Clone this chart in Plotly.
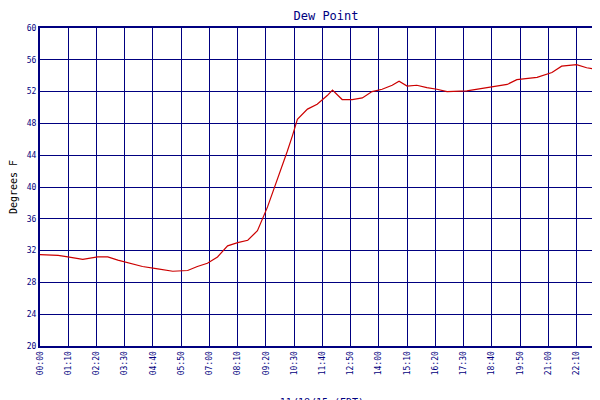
import plotly.graph_objects as go

minutes = [0,45,69,106,143,168,193,217,254,292,329,366,390,415,440,465,490,515,539,564,589,613,626,638,663,687,712,725,749,774,799,823,848,873,890,910,934,959,984,1009,1058,1108,1158,1182,1232,1269,1293,1330,1355,1380,1398]
dew = [31.5,31.4,31.2,30.9,31.2,31.2,30.8,30.5,30.0,29.7,29.4,29.5,30.0,30.4,31.2,32.6,33.0,33.3,34.5,37.5,41.0,44.5,46.5,48.5,49.8,50.4,51.5,52.2,51.0,51.0,51.2,52.0,52.3,52.8,53.3,52.7,52.8,52.5,52.3,52.0,52.1,52.5,52.9,53.5,53.8,54.4,55.2,55.4,55.0,54.8,55.0]
tick_vals = [0,70,140,210,280,350,420,490,560,630,700,770,840,910,980,1050,1120,1190,1260,1330,1395,1398]
tick_text = ["00:00","01:10","02:20","03:30","04:40","05:50","07:00","08:10","09:20","10:30","11:40","12:50","14:00","15:10","16:20","17:30","18:40","19:50","21:00","22:10","23:20","00:00"]
y_ticks = list(range(20, 61, 4))

navy = "#000080"
font = dict(family="DejaVu Sans Mono", size=9, color=navy)
fig = go.Figure(go.Scatter(x=minutes, y=dew, mode="lines", name="Dew Point",
                           line=dict(color="#cc0000", width=1.2)))
fig.update_layout(
    width=600, height=400, margin=dict(l=32, r=4, t=20, b=62, autoexpand=False),
    paper_bgcolor="white", plot_bgcolor="white", font=font,
    title=dict(text="Dew Point", x=0.53, y=0.99, yanchor="top", font=dict(family="DejaVu Sans Mono", size=12, color=navy)),
    showlegend=True,
    legend=dict(orientation="h", x=0.5, xanchor="center", y=-0.16, yanchor="top", font=dict(size=8, color=navy)),
)
fig.update_xaxes(range=[0, 1398], tickvals=tick_vals, ticktext=tick_text, tickangle=-90, automargin=False,
                 showgrid=True, gridcolor=navy, gridwidth=1, showline=True, linecolor=navy, linewidth=2,
                 mirror=True, ticks="", zeroline=False, tickfont=dict(size=8, color=navy),
                 title=dict(text="11/18/15 (EDT)", font=dict(size=10, color=navy), standoff=36))
fig.update_yaxes(range=[20, 60], tickvals=y_ticks, showgrid=True, gridcolor=navy, gridwidth=1, automargin=False,
                 showline=True, linecolor=navy, linewidth=2, mirror=True, ticks="", zeroline=False,
                 tickfont=dict(size=8, color=navy),
                 title=dict(text="Degrees F", font=dict(size=10, color="black"), standoff=14))
fig.write_html("out.html")
